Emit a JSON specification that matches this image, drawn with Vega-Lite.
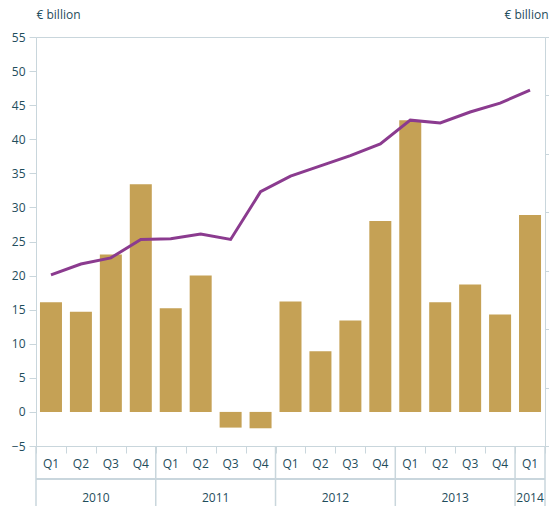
{
  "$schema": "https://vega.github.io/schema/vega-lite/v6.json",
  "autosize": {"type": "pad"},
  "padding": {"left": 10, "top": 7, "right": 0, "bottom": 0},
  "background": "white",
  "bounds": "flush",
  "config": {
    "font": "Open Sans",
    "view": {"stroke": null},
    "axis": {
      "labelFont": "Open Sans", "titleFont": "Open Sans",
      "labelColor": "#1f4d5c", "titleColor": "#1f4d5c",
      "domainColor": "#c9d6dc", "tickColor": "#c9d6dc",
      "labelFontSize": 12, "titleFontSize": 12, "titleFontWeight": "normal"
    }
  },
  "data": {"values": [
    {"period": "2010 Q1", "year": "2010", "quarter": "Q1", "flow": 16.1, "stock": 20.1},
    {"period": "2010 Q2", "year": "2010", "quarter": "Q2", "flow": 14.7, "stock": 21.7},
    {"period": "2010 Q3", "year": "2010", "quarter": "Q3", "flow": 23.1, "stock": 22.6},
    {"period": "2010 Q4", "year": "2010", "quarter": "Q4", "flow": 33.4, "stock": 25.3},
    {"period": "2011 Q1", "year": "2011", "quarter": "Q1", "flow": 15.2, "stock": 25.4},
    {"period": "2011 Q2", "year": "2011", "quarter": "Q2", "flow": 20.0, "stock": 26.1},
    {"period": "2011 Q3", "year": "2011", "quarter": "Q3", "flow": -2.3, "stock": 25.3},
    {"period": "2011 Q4", "year": "2011", "quarter": "Q4", "flow": -2.4, "stock": 32.3},
    {"period": "2012 Q1", "year": "2012", "quarter": "Q1", "flow": 16.2, "stock": 34.6},
    {"period": "2012 Q2", "year": "2012", "quarter": "Q2", "flow": 8.9, "stock": 36.1},
    {"period": "2012 Q3", "year": "2012", "quarter": "Q3", "flow": 13.4, "stock": 37.6},
    {"period": "2012 Q4", "year": "2012", "quarter": "Q4", "flow": 28.0, "stock": 39.3},
    {"period": "2013 Q1", "year": "2013", "quarter": "Q1", "flow": 42.8, "stock": 42.8},
    {"period": "2013 Q2", "year": "2013", "quarter": "Q2", "flow": 16.1, "stock": 42.4},
    {"period": "2013 Q3", "year": "2013", "quarter": "Q3", "flow": 18.7, "stock": 44.0},
    {"period": "2013 Q4", "year": "2013", "quarter": "Q4", "flow": 14.3, "stock": 45.3},
    {"period": "2014 Q1", "year": "2014", "quarter": "Q1", "flow": 28.9, "stock": 47.2}
  ]},
  "spacing": 0,
  "resolve": {"scale": {"x": "shared"}},
  "vconcat": [
    {
      "width": 509, "height": 409,
      "view": {"stroke": "#c9d6dc"},
      "encoding": {
        "x": {"field": "period", "type": "nominal", "sort": null,
              "scale": {"paddingInner": 0, "paddingOuter": 0},
              "axis": {"labels": false, "title": null, "tickBand": "extent", "tickSize": 7}}
      },
      "layer": [
        {
          "mark": {"type": "bar", "color": "#c5a155", "size": 22},
          "encoding": {
            "y": {"field": "flow", "type": "quantitative",
                  "scale": {"domain": [-5, 55], "nice": false, "zero": false},
                  "axis": {"values": [-5, 0, 5, 10, 15, 20, 25, 30, 35, 40, 45, 50, 55],
                           "tickSize": 7, "labelPadding": 4, "grid": false,
                           "title": "€ billion", "titleAngle": 0, "titleAlign": "left",
                           "titleBaseline": "middle", "titleX": 0, "titleY": -23}}
          }
        },
        {
          "mark": {"type": "rule", "color": "#c9d6dc", "strokeWidth": 1.5},
          "encoding": {"y": {"datum": 0, "type": "quantitative",
                             "scale": {"domain": [-5, 55], "nice": false, "zero": false}, "axis": null}}
        },
        {
          "mark": {"type": "line", "color": "#8b3b8f", "strokeWidth": 3},
          "encoding": {
            "y": {"field": "stock", "type": "quantitative",
                  "scale": {"domain": [-5, 55], "nice": false, "zero": false},
                  "axis": {"orient": "right",
                           "values": [-5, 3.571, 12.143, 20.714, 29.286, 37.857, 46.429, 55],
                           "labels": false, "tickSize": 5, "grid": false,
                           "title": "€ billion", "titleAngle": 0, "titleAlign": "right",
                           "titleBaseline": "middle", "titleX": 3, "titleY": -23}}
          }
        }
      ],
      "resolve": {"scale": {"y": "independent"}, "axis": {"y": "independent"}}
    },
    {
      "width": 509, "height": 60,
      "encoding": {
        "x": {"field": "period", "type": "nominal", "sort": null,
              "scale": {"paddingInner": 0, "paddingOuter": 0}, "axis": null}
      },
      "layer": [
        {
          "mark": {"type": "text", "fontSize": 12, "color": "#1f4d5c", "dy": 1.5},
          "encoding": {
            "text": {"field": "quarter"},
            "y": {"datum": "Quarter", "type": "nominal",
                  "scale": {"type": "band", "domain": ["Quarter", "Year"], "range": [0, 66], "paddingInner": 0, "paddingOuter": 0},
                  "axis": null}
          }
        },
        {
          "transform": [{"filter": "datum.quarter === 'Q1'"}],
          "mark": {"type": "rule", "color": "#c9d6dc", "strokeWidth": 1.5},
          "encoding": {
            "x": {"field": "period", "type": "nominal", "sort": null, "bandPosition": 0}
          }
        },
        {
          "transform": [{"filter": "datum.period === '2014 Q1'"}],
          "mark": {"type": "rule", "color": "#c9d6dc", "strokeWidth": 1.5},
          "encoding": {
            "x": {"field": "period", "type": "nominal", "sort": null, "bandPosition": 1}
          }
        },
        {
          "mark": {"type": "rule", "color": "#c9d6dc", "strokeWidth": 1.5},
          "encoding": {
            "x": null,
            "y": {"datum": "Year", "type": "nominal", "bandPosition": 0}
          }
        },
        {
          "transform": [{"filter": "datum.quarter === 'Q2'"}],
          "mark": {"type": "text", "fontSize": 12, "color": "#1f4d5c", "dy": 2.5},
          "encoding": {
            "x": {"field": "period", "type": "nominal", "sort": null, "bandPosition": 1},
            "text": {"field": "year"},
            "y": {"datum": "Year", "type": "nominal"}
          }
        },
        {
          "transform": [{"filter": "datum.year === '2014'"}],
          "mark": {"type": "text", "fontSize": 12, "color": "#1f4d5c", "dy": 2.5},
          "encoding": {
            "text": {"field": "year"},
            "y": {"datum": "Year", "type": "nominal"}
          }
        }
      ]
    }
  ]
}
